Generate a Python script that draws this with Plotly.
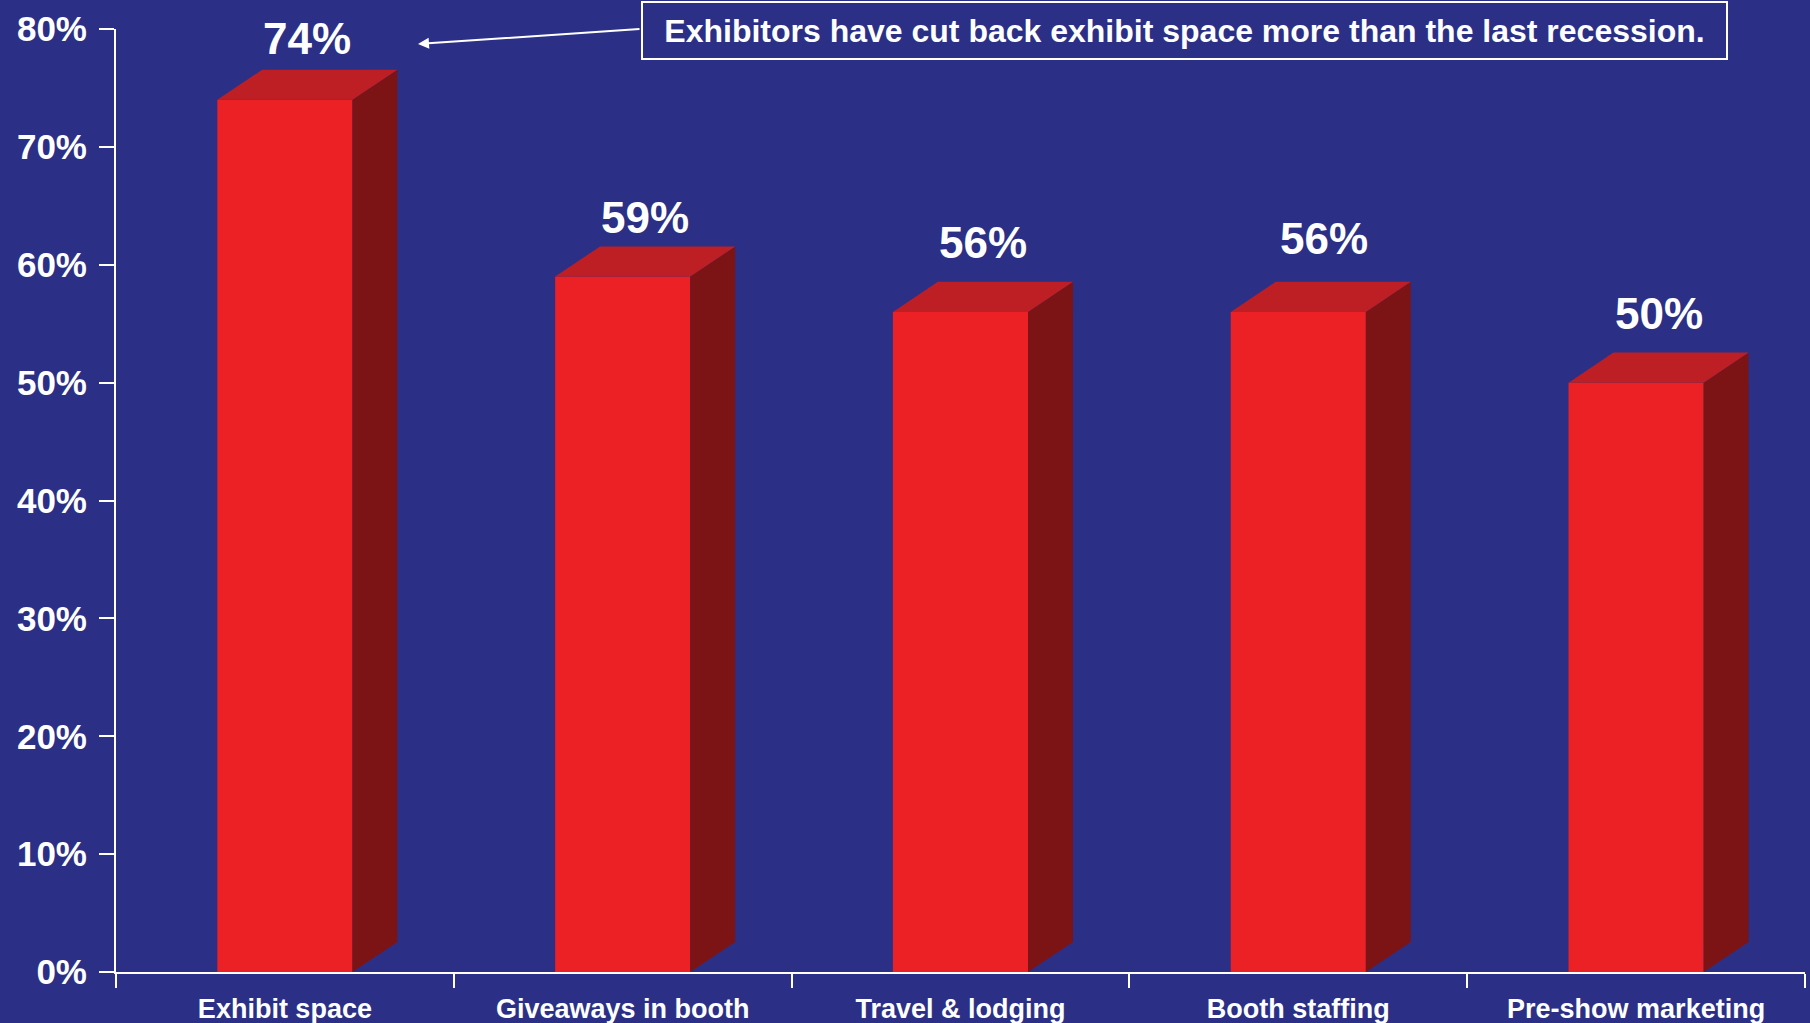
import plotly.graph_objects as go

# Survey results: share of exhibitors cutting back each budget item
categories = ["Exhibit space", "Giveaways in booth", "Travel & lodging",
              "Booth staffing", "Pre-show marketing"]
values = [74, 59, 56, 56, 50]
y_ticks = [0, 10, 20, 30, 40, 50, 60, 70, 80]
y_tick_text = [f"{t}%" for t in y_ticks]
callout = "Exhibitors have cut back exhibit space more than the last recession."

BG = "#2B3086"
FRONT = "#EC2125"
TOP = "#BD1F25"
SIDE = "#7C1416"
FONT = "Liberation Sans, Arial, sans-serif"

BAR_W = 0.4      # front face width (category units)
DX = 0.133       # 3D depth offset along x (category units)
DY = 2.55        # 3D depth offset along y (percent units)

# per-label nudges (pixels) for the value labels
label_yshift = [5, 2, 13, 17, 13]
label_xshift = [0, 0, 0, 3, 0]

xs = list(range(len(categories)))

fig = go.Figure()
fig.add_trace(go.Bar(
    x=xs, y=values, width=BAR_W,
    marker=dict(color=FRONT, line=dict(width=0)),
    hoverinfo="skip", showlegend=False,
))

shapes = []
annotations = []
for i, v in zip(xs, values):
    l, r = i - BAR_W / 2, i + BAR_W / 2
    # right-hand side face
    shapes.append(dict(
        type="path", xref="x", yref="y", layer="above",
        path=f"M {r},0 L {r+DX},{DY} L {r+DX},{v+DY} L {r},{v} Z",
        fillcolor=SIDE, line=dict(width=0),
    ))
    # top face
    shapes.append(dict(
        type="path", xref="x", yref="y", layer="above",
        path=f"M {l},{v} L {l+DX},{v+DY} L {r+DX},{v+DY} L {r},{v} Z",
        fillcolor=TOP, line=dict(width=0),
    ))
    # value label above the bar
    annotations.append(dict(
        x=i + DX / 2, y=v + DY, xref="x", yref="y",
        text=f"{v}%", showarrow=False, yanchor="bottom",
        yshift=label_yshift[i], xshift=label_xshift[i],
        font=dict(family=FONT, size=44, color="white", weight="bold"),
    ))

# callout box with arrow pointing at the first bar's label
annotations.append(dict(
    x=0.6326, y=0.9979, xref="paper", yref="paper",
    xanchor="center", yanchor="middle",
    text=callout, showarrow=False,
    width=1083, height=55, borderpad=0,
    bordercolor="white", borderwidth=2, bgcolor=BG,
    font=dict(family=FONT, size=32, color="white", weight="bold"),
))
annotations.append(dict(
    x=0.1788, y=0.9841, xref="paper", yref="paper",
    ax=223, ay=-15, axref="pixel", ayref="pixel",
    text="", showarrow=True, arrowhead=2, arrowsize=1.1,
    arrowwidth=2, arrowcolor="white",
))

fig.update_layout(
    width=1810, height=1023,
    margin=dict(l=116, r=5, t=29, b=51),
    paper_bgcolor=BG, plot_bgcolor=BG,
    shapes=shapes, annotations=annotations,
    showlegend=False,
    xaxis=dict(
        range=[-0.5, len(categories) - 0.5], automargin=False,
        tickmode="array", tickvals=xs, ticktext=categories,
        ticks="", showgrid=False, zeroline=False,
        showline=True, linecolor="white", linewidth=2,
        ticklabelstandoff=12,
        tickfont=dict(family=FONT, size=27, color="white", weight="bold"),
        minor=dict(
            tickmode="array",
            tickvals=[x - 0.5 for x in range(len(categories) + 1)],
            ticks="outside", ticklen=14, tickwidth=2, tickcolor="white",
            showgrid=False,
        ),
    ),
    yaxis=dict(
        range=[0, 80], automargin=False,
        tickmode="array", tickvals=y_ticks, ticktext=y_tick_text,
        ticks="outside", ticklen=15, tickwidth=2, tickcolor="white",
        showgrid=False, zeroline=False,
        showline=True, linecolor="white", linewidth=2,
        ticklabelstandoff=5,
        tickfont=dict(family=FONT, size=35, color="white", weight="bold"),
    ),
)

fig.write_html("out.html")
